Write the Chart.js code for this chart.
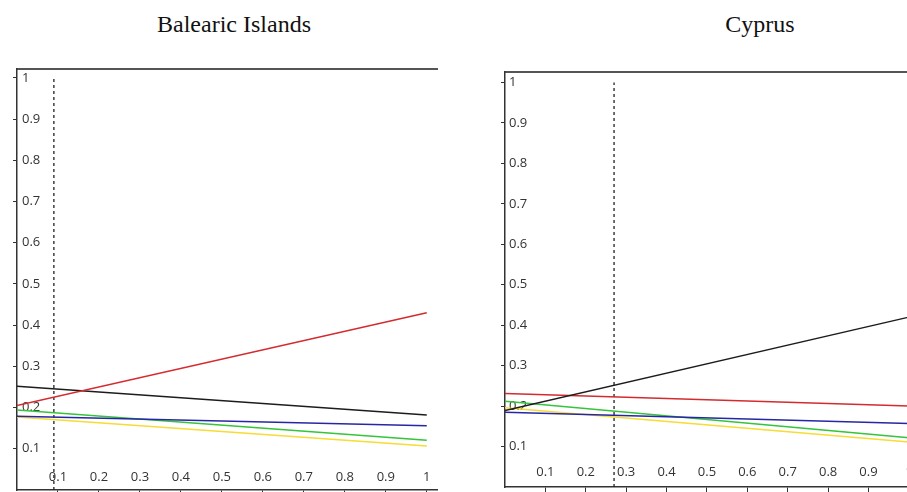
<!DOCTYPE html>
<html>
<head>
<meta charset="utf-8">
<script src="https://cdn.jsdelivr.net/npm/chart.js@4/dist/chart.umd.min.js"></script>
<style>
  body { margin: 0; width: 907px; height: 492px; overflow: hidden; background: #fff; position: relative; }
  .ttl { position: absolute; top: 11px; font-family: "Liberation Serif", "Times New Roman", serif; font-size: 24px; color: #111; text-align: center; width: 300px; }
  canvas { position: absolute; }
</style>
</head>
<body>
<div class="ttl" style="left:84px">Balearic Islands</div>
<div class="ttl" style="left:610px">Cyprus</div>
<canvas id="balearic" width="460" height="454" style="left:0;top:56px"></canvas>
<canvas id="cyprus" width="460" height="450" style="left:480px;top:60px"></canvas>
<script>
// x positions of the end points of every line
const xEnds = [0, 1];
const xTicks = [0.1, 0.2, 0.3, 0.4, 0.5, 0.6, 0.7, 0.8, 0.9, 1];
const yTicks = [0.1, 0.2, 0.3, 0.4, 0.5, 0.6, 0.7, 0.8, 0.9, 1];

// Balearic Islands
const balRed = [0.205, 0.430];
const balBlack = [0.252, 0.182];
const balBlue = [0.179, 0.156];
const balGreen = [0.194, 0.121];
const balYellow = [0.177, 0.107];
const balMarker = 0.09;

// Cyprus
const cypBlack = [0.189, 0.420];
const cypRed = [0.231, 0.200];
const cypGreen = [0.212, 0.122];
const cypBlue = [0.185, 0.157];
const cypYellow = [0.196, 0.111];
const cypMarker = 0.27;

const colors = { red: '#d42b2f', black: '#1c1c1c', blue: '#2626a6', green: '#35c43a', yellow: '#f6dc34' };

function line(vals, color) {
  return {
    data: xEnds.map((x, i) => ({ x: x, y: vals[i] })),
    borderColor: color,
    borderWidth: 1.5,
    pointRadius: 0,
    tension: 0
  };
}

function marker(x) {
  return {
    data: [{ x: x, y: 0 }, { x: x, y: 1 }],
    borderColor: '#222',
    borderWidth: 1.3,
    borderDash: [3, 3],
    pointRadius: 0
  };
}

function printchart(id, datasets, xMax, yMax, pad, xPad, yPad) {
  new Chart(document.getElementById(id), {
    type: 'line',
    data: { datasets },
    options: {
      responsive: false,
      animation: false,
      layout: { padding: pad },
      plugins: { legend: { display: false }, tooltip: { enabled: false } },
      scales: {
        x: {
          type: 'linear',
          min: 0,
          max: xMax,
          afterBuildTicks: (axis) => { axis.ticks = xTicks.map((v) => ({ value: v })); },
          ticks: { mirror: true, padding: xPad, color: '#333', font: { family: 'Open Sans', size: 13 }, maxRotation: 0, autoSkip: false, callback: (v) => String(v) },
          grid: { drawOnChartArea: false, tickLength: 5, color: '#333' },
          border: { color: '#333', width: 1.5 }
        },
        top: {
          type: 'linear',
          position: 'top',
          min: 0,
          max: 1,
          ticks: { display: false },
          grid: { drawOnChartArea: false, drawTicks: false },
          border: { color: '#555', width: 2 }
        },
        y: {
          min: 0,
          max: yMax,
          afterBuildTicks: (axis) => { axis.ticks = yTicks.map((v) => ({ value: v })); },
          ticks: { mirror: true, padding: yPad, color: '#333', font: { family: 'Open Sans', size: 13 }, callback: (v) => String(v) },
          grid: { drawOnChartArea: false, tickLength: 4, color: '#333' },
          border: { color: '#333', width: 1.5 }
        }
      }
    }
  });
}

printchart('balearic', [
  line(balRed, colors.red),
  line(balBlack, colors.black),
  line(balBlue, colors.blue),
  line(balGreen, colors.green),
  line(balYellow, colors.yellow),
  marker(balMarker)
], 1.025, 1.022, { left: 3, top: 0, right: 23, bottom: 5 }, 5, 5);

printchart('cyprus', [
  line(cypBlack, colors.black),
  line(cypRed, colors.red),
  line(cypBlue, colors.blue),
  line(cypGreen, colors.green),
  line(cypYellow, colors.yellow),
  marker(cypMarker)
], 1.03, 1.026, { left: 13, top: 12, right: 19, bottom: 4 }, 7, 4);
</script>
</body>
</html>
